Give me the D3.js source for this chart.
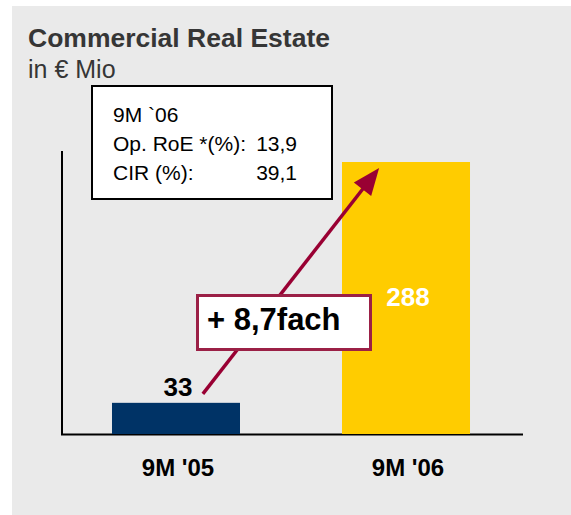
<!DOCTYPE html>
<html>
<head>
  <meta charset="utf-8">
  <script src="https://cdn.jsdelivr.net/npm/d3@7"></script>
  <style>
    body { margin: 0; background: #fff; }
    text { font-family: "Liberation Sans", Arial, sans-serif; }
  </style>
</head>
<body>
  <script type="text/javascript">
    // chart values
    var categories = ["9M '05", "9M '06"];
    var values = [33, 288];
    var barColors = ["#003366", "#ffcc00"];
    var valueColors = ["#000000", "#ffffff"];
    var infoLines = [["9M `06", ""], ["Op. RoE *(%):", "13,9"], ["CIR (%):", "39,1"]];
    var growthLabel = "+ 8,7fach";

    var width = 571, height = 515;
    var svg = d3.select("body").append("svg")
      .attr("width", width)
      .attr("height", height);

    // grey panel
    svg.append("rect")
      .attr("x", 12).attr("y", 6)
      .attr("width", width - 12).attr("height", height - 6)
      .attr("fill", "#eaeaea");

    // titles
    svg.append("text")
      .attr("x", 28).attr("y", 47)
      .style("font-size", "26.5px").style("font-weight", "bold")
      .attr("fill", "#363636")
      .text("Commercial Real Estate");
    svg.append("text")
      .attr("x", 28).attr("y", 78)
      .style("font-size", "25px")
      .attr("fill", "#363636")
      .text("in € Mio");

    /*
      scales
    */
    var x = d3.scaleBand()
      .domain(categories)
      .range([61, 521])
      .paddingInner(0.4435)
      .paddingOuter(0.2217);
    var y = d3.scaleLinear()
      .domain([0, 288])
      .range([434, 162]);

    // axes lines
    svg.append("line")
      .attr("x1", 62).attr("x2", 62)
      .attr("y1", 151).attr("y2", y(0) + 1)
      .attr("stroke", "#000").attr("stroke-width", 2);
    svg.append("line")
      .attr("x1", 61).attr("x2", 523)
      .attr("y1", y(0) + 0.5).attr("y2", y(0) + 0.5)
      .attr("stroke", "#000").attr("stroke-width", 2);

    // bars
    svg.selectAll("rect.bar")
      .data(values)
      .enter().append("rect")
      .attr("class", "bar")
      .attr("x", function(d, i) { return x(categories[i]); })
      .attr("y", function(d) { return y(d); })
      .attr("width", x.bandwidth())
      .attr("height", function(d) { return y(0) - y(d); })
      .attr("fill", function(d, i) { return barColors[i]; });

    // category labels
    svg.selectAll("text.cat")
      .data(categories)
      .enter().append("text")
      .attr("class", "cat")
      .attr("x", function(d) { return x(d) + x.bandwidth() / 2 + 2; })
      .attr("y", 476)
      .attr("text-anchor", "middle")
      .style("font-size", "24px").style("font-weight", "bold")
      .attr("fill", "#000")
      .text(function(d) { return d; });

    // value labels: first above the bar, second inside
    svg.selectAll("text.val")
      .data(values)
      .enter().append("text")
      .attr("class", "val")
      .attr("x", function(d, i) { return x(categories[i]) + x.bandwidth() / 2 + 2; })
      .attr("y", function(d, i) { return i === 0 ? y(d) - 7 : y(d) + 144; })
      .attr("text-anchor", "middle")
      .style("font-size", "26px").style("font-weight", "bold")
      .attr("fill", function(d, i) { return valueColors[i]; })
      .text(function(d) { return d; });

    /*
      growth arrow
    */
    var x0 = x(categories[0]) + x.bandwidth() * 0.71,
        y0 = y(values[0]) - 9,
        x1 = x(categories[1]) + x.bandwidth() * 0.29,
        y1 = y(values[1]) + 6;
    var len = Math.sqrt((x1 - x0) * (x1 - x0) + (y1 - y0) * (y1 - y0));
    var ux = (x1 - x0) / len, uy = (y1 - y0) / len;
    var headL = 27, headW = 11;
    var bx = x1 - ux * headL, by = y1 - uy * headL;
    svg.append("line")
      .attr("x1", x0).attr("y1", y0)
      .attr("x2", bx + ux * 2).attr("y2", by + uy * 2)
      .attr("stroke", "#990033").attr("stroke-width", 3.5);
    svg.append("path")
      .attr("d", "M" + x1 + "," + y1 +
                 "L" + (bx - uy * headW) + "," + (by + ux * headW) +
                 "L" + (bx + uy * headW) + "," + (by - ux * headW) + "Z")
      .attr("fill", "#990033");

    // growth label box
    svg.append("rect")
      .attr("x", 197.5).attr("y", 295.5)
      .attr("width", 173).attr("height", 54)
      .attr("fill", "#fff")
      .attr("stroke", "#9b2046").attr("stroke-width", 3);
    svg.append("text")
      .attr("x", 207).attr("y", 330)
      .style("font-size", "31px").style("font-weight", "bold")
      .attr("fill", "#000")
      .text(growthLabel);

    /*
      info box
    */
    svg.append("rect")
      .attr("x", 92).attr("y", 86)
      .attr("width", 240).attr("height", 113)
      .attr("fill", "#fff")
      .attr("stroke", "#000").attr("stroke-width", 2);
    var info = svg.selectAll("g.info")
      .data(infoLines)
      .enter().append("g")
      .attr("class", "info");
    info.append("text")
      .attr("x", 113)
      .attr("y", function(d, i) { return 122 + i * 29; })
      .style("font-size", "21px")
      .attr("fill", "#000")
      .text(function(d) { return d[0]; });
    info.append("text")
      .attr("x", 297)
      .attr("y", function(d, i) { return 122 + i * 29; })
      .attr("text-anchor", "end")
      .style("font-size", "21px")
      .attr("fill", "#000")
      .text(function(d) { return d[1]; });
  </script>
</body>
</html>
